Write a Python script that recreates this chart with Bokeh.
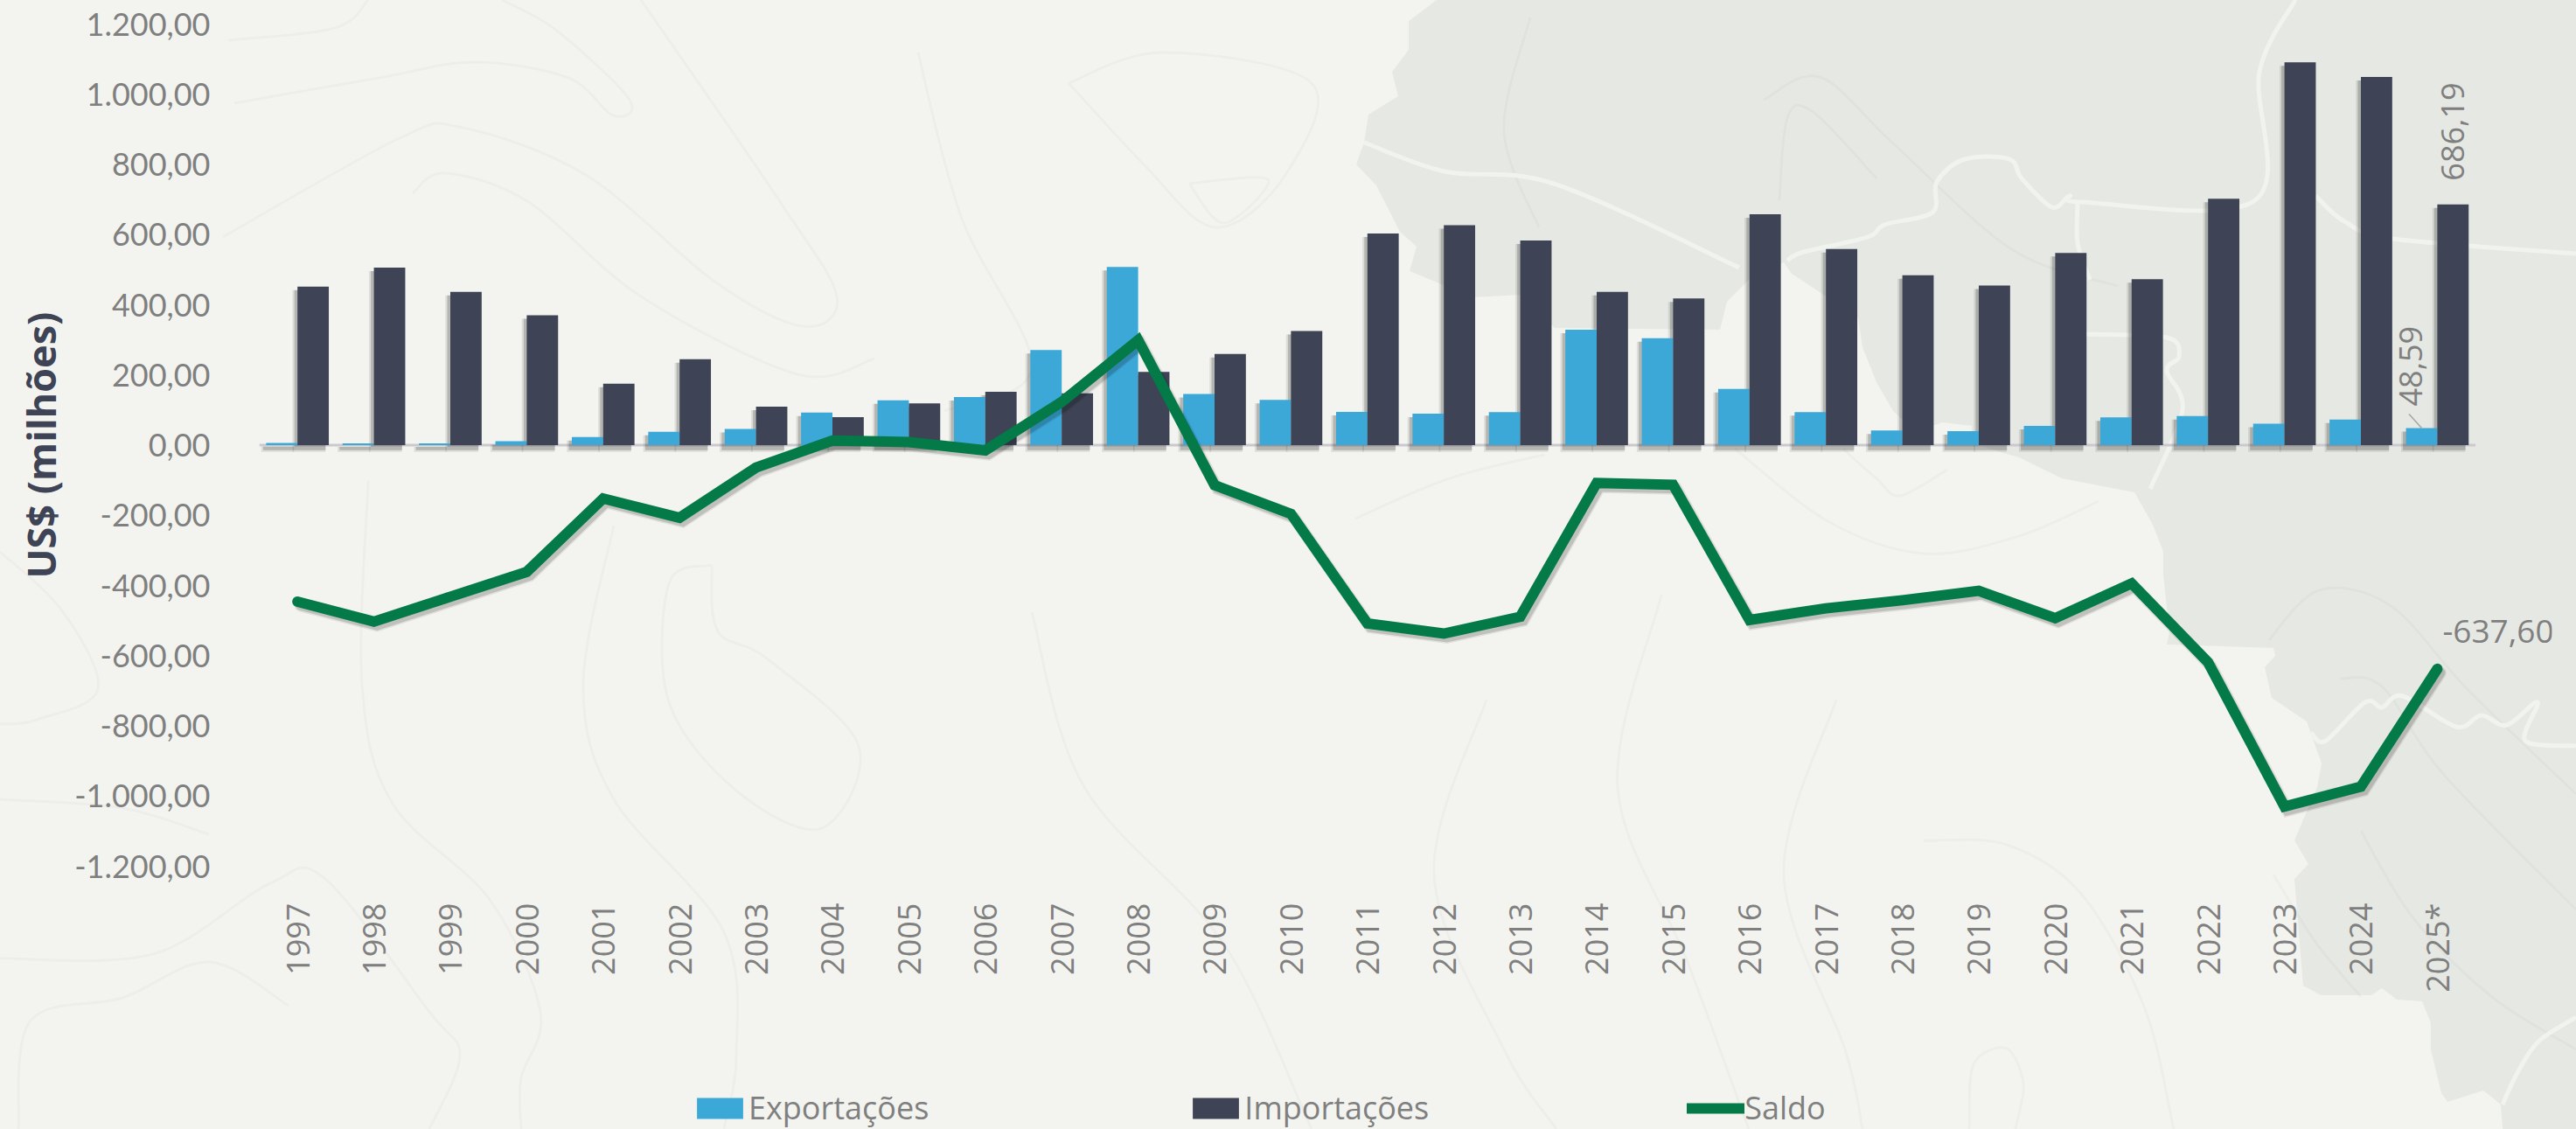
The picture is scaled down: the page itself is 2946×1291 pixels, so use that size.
from math import pi
from urllib.parse import quote
import numpy as np
from bokeh.core.properties import value
from bokeh.embed import file_html
from bokeh.models import (ColumnDataSource, FactorRange, FixedTicker, GlobalInlineStyleSheet,
                          Legend, LegendItem, Range1d, Title)
from bokeh.plotting import figure
from bokeh.resources import INLINE
from bokeh.transform import dodge

anos = ["1997","1998","1999","2000","2001","2002","2003","2004","2005","2006","2007","2008","2009","2010",
        "2011","2012","2013","2014","2015","2016","2017","2018","2019","2020","2021","2022","2023","2024","2025*"]
exportacoes = [6,5,5,11,23,38,46,93,128,137,271,508,146,129,95,90,94,329,305,160,94,42,40,55,79,83,61,73,48.59]
importacoes = [452,506,437,370,175,245,110,80,119,152,148,209,260,325,603,627,583,437,418,658,559,484,455,548,473,702,1091,1049,686.19]
saldo = [-446,-503,-432,-361,-152,-207,-64,13,9,-15,123,299,-114,-196,-508,-537,-489,-108,-113,-498,-465,-442,-415,-493,-394,-619,-1030,-973,-637.6]
y_ticks = [-1200,-1000,-800,-600,-400,-200,0,200,400,600,800,1000,1200]
y_labels = ["-1.200,00","-1.000,00","-800,00","-600,00","-400,00","-200,00","0,00","200,00","400,00","600,00","800,00","1.000,00","1.200,00"]

AZUL, ESCURO, VERDE, CINZA = "#3ba8d8", "#3e4455", "#037a48", "#7f7f7f"

# ---- decorative page background (map silhouette, borders, contour lines), in page pixels
MAPA = [(1643,0),(1611,24),(1611,57),(1592,82),(1599,110),(1565,131),(1560,163),(1551,188),(1574,212),(1601,265),
        (1620,282),(1612,310),(1685,340),(1740,337),(1778,375),(1967,377),(1975,345),(2000,320),(2040,300),(2049,313),
        (2125,363),(2130,397),(2146,437),(2165,470),(2190,493),(2222,483),(2255,487),(2255,507),(2309,523),(2358,547),
        (2441,563),(2462,600),(2474,631),(2474,657),(2481,723),(2478,737),(2600,741),(2602,750),(2590,763),(2598,798),
        (2638,825),(2655,873),(2650,900),(2624,961),(2640,988),(2624,1005),(2634,1127),(2654,1138),(2712,1138),(2724,1130),
        (2741,1143),(2770,1145),(2780,1170),(2780,1200),(2792,1250),(2799,1260),(2840,1247),(2860,1263),(2862,1291),
        (2946,1291),(2946,0)]
RIOS = [[(1560,163),(1652,196),(1777,210),(1989,306)],
        [(2044,298),(2063,288),(2136,271),(2155,257),(2210,243),(2215,208),(2247,182),(2298,182),(2312,204),(2347,237),
         (2367,224),(2381,231),(2579,229),(2584,82),(2625,0)],
        [(2376,233),(2376,278),(2390,320)],
        [(2386,382),(2478,386),(2492,408),(2478,424),(2496,469),(2459,559)],
        [(2648,224),(2681,253),(2736,273),(2946,290)],
        [(2643,838),(2660,847),(2705,803),(2724,809),(2748,796),(2809,831),(2838,818),(2867,829),(2902,803),(2888,847),(2946,853)],
        [(2862,1263),(2881,1223),(2904,1190),(2946,1163)]]
CURVAS = [[(261,46),(383,32),(421,0)],
          [(268,118),(434,89),(542,71),(650,89),(701,132),(720,114),(638,36),(574,0)],
          [(255,271),(459,157),(529,146),(670,200),(816,321),(918,373),(957,339),(893,232),(733,0)],
          [(472,221),(510,198),(606,232),(733,339),(912,428),(1000,410)],
          [(1222,95),(1330,60),(1500,95),(1470,200),(1390,260),(1310,190),(1222,95)],
          [(1360,210),(1450,205),(1400,255),(1360,210)],
          [(421,550),(414,783),(449,919),(561,1030),(618,1157),(596,1232),(596,1291)],
          [(702,601),(667,783),(702,914),(828,1066),(842,1207),(828,1291)],
          [(814,646),(765,667),(765,803),(842,904),(940,947),(982,853),(877,753),(821,722),(814,646)],
          [(0,1096),(175,1091),(309,1010),(372,1005),(491,1157),(526,1207),(491,1291)],
          [(21,1291),(35,1167),(140,1141),(240,1100),(330,1150)],
          [(0,631),(70,697),(112,788),(42,823),(0,828)],
          [(0,914),(140,924),(239,954)],
          [(2595,732),(2652,675),(2733,692),(2819,785),(2946,908)],
          [(2676,776),(2724,785),(2795,886),(2946,1040)],
          [(2017,114),(2081,88),(2164,163),(2302,286),(2422,327)],
          [(2035,229),(2044,135),(2072,127),(2146,204)],
          [(2200,961),(2295,966),(2381,1023),(2452,1151),(2486,1291)],
          [(2252,1291),(2257,1217),(2295,1199),(2314,1239),(2305,1291)],
          [(2108,513),(2146,547),(2173,567),(2227,537)],
          [(1984,513),(2092,597),(2200,633),(2309,613),(2400,573)],
          [(1550,593),(1658,547),(1767,520)],
          [(1180,700),(1240,900),(1400,1080),(1500,1291)],
          [(1700,800),(1640,1000),(1720,1200),(1780,1291)],
          [(1900,680),(1850,900),(1930,1100),(2000,1291)],
          [(2100,800),(2040,1000),(2110,1200),(2130,1291)],
          [(2700,950),(2760,1050),(2850,1140),(2946,1200)],
          [(2600,1000),(2650,1080),(2700,1140)],
          [(1050,60),(1100,250),(1180,420),(1080,470)],
          [(1750,20),(1720,150),(1760,260)]]

def suave(pts):
    d = f"M{pts[0][0]} {pts[0][1]}"
    for i in range(len(pts) - 1):
        p0 = pts[max(i - 1, 0)]; p1 = pts[i]; p2 = pts[i + 1]; p3 = pts[min(i + 2, len(pts) - 1)]
        d += (f"C{p1[0]+(p2[0]-p0[0])/6:.0f} {p1[1]+(p2[1]-p0[1])/6:.0f} "
              f"{p2[0]-(p3[0]-p1[0])/6:.0f} {p2[1]-(p3[1]-p1[1])/6:.0f} {p2[0]} {p2[1]}")
    return d

fundo = "<svg xmlns='http://www.w3.org/2000/svg' width='2946' height='1291' viewBox='0 0 2946 1291'>"
fundo += "<path fill='#e6e8e3' d='M" + "L".join(f"{x} {y}" for x, y in MAPA) + "Z'/>"
for c in CURVAS:
    fundo += f"<path fill='none' stroke='#000' stroke-opacity='.022' stroke-width='3' d='{suave(c)}'/>"
for r in RIOS:
    fundo += f"<path fill='none' stroke='#f1f3ee' stroke-width='5' d='{suave(r)}'/>"
fundo += "</svg>"
css = (f"html{{margin:0;padding:0;overflow:hidden;background:#f3f4ef url(\"data:image/svg+xml,{quote(fundo)}\") no-repeat 0 0;}} "
       "body{margin:0;padding:0;background:transparent;}")

# ---- chart: the frame runs to the page bottom so that the legend sits inside it;
# the category axis is pinned at -1200 and one blank factor leaves room for the last data label
p = figure(width=2946, height=1291, frame_width=2622, frame_height=1264,
           x_range=FactorRange(factors=anos + [" "], range_padding=0), y_range=Range1d(-1950, 1200),
           output_backend="svg", toolbar_location=None, min_border_left=296, min_border_right=28,
           min_border_top=27, min_border_bottom=0)
p.background_fill_color = None
p.border_fill_color = None
p.outline_line_color = None
p.grid.visible = False
p.stylesheets = [GlobalInlineStyleSheet(css=css)]

src = ColumnDataSource(dict(ano=anos, exp=exportacoes, imp=importacoes, saldo=saldo,
                            exp_s=np.maximum(np.array(exportacoes) - 10, -5),
                            imp_s=np.maximum(np.array(importacoes) - 10, -5),
                            saldo_s=np.array(saldo) - 11))
rng = p.x_range
W = 0.41
D = W / 2

base = ColumnDataSource(dict(a=[anos[0]], b=[anos[-1]], y=[0]))
p.segment(x0=dodge("a", -0.5, range=rng), y0="y", x1=dodge("b", 0.5, range=rng), y1="y", source=base,
          line_color="#c9c9ce", line_width=3)

for larg, off, fundo_y, a in [(W + 0.02, -0.055, -19, 0.09), (W, -0.04, -14, 0.18)]:
    p.vbar(x=dodge("ano", -D + off, range=rng), top="exp_s", bottom=fundo_y, width=larg, source=src,
           fill_color="#000000", fill_alpha=a, line_color=None)
    p.vbar(x=dodge("ano", D + off, range=rng), top="imp_s", bottom=fundo_y, width=larg, source=src,
           fill_color="#000000", fill_alpha=a, line_color=None)

r_exp = p.vbar(x=dodge("ano", -D, range=rng), top="exp", bottom=0, width=W, source=src, fill_color=AZUL, line_color=None)
r_imp = p.vbar(x=dodge("ano", D, range=rng), top="imp", bottom=0, width=W, source=src, fill_color=ESCURO, line_color=None)

for larg, a in [(14, 0.08), (11, 0.14)]:
    p.line(x=dodge("ano", 0.04, range=rng), y="saldo_s", source=src, line_color="#000000", line_alpha=a, line_width=larg,
           line_join="miter", line_cap="round")
r_saldo = p.line(x="ano", y="saldo", source=src, line_color=VERDE, line_width=12, line_join="miter", line_cap="round")

# rotulos de dados
ult = ColumnDataSource(dict(ano=[anos[-1]], exp=[exportacoes[-1]], imp=[importacoes[-1]], saldo=[saldo[-1]],
                            t_exp=["48,59"], t_imp=["686,19"], t_saldo=["-637,60"],
                            lead_y0=[exportacoes[-1] + 40]))
fonte = value("Open Sans")
p.text(x=dodge("ano", D, range=rng), y="imp", text="t_imp", source=ult, angle=pi / 2, text_align="left",
       text_baseline="middle", y_offset=-27, text_font=fonte, text_font_size="36px", text_color=CINZA)
p.text(x=dodge("ano", -D, range=rng), y="exp", text="t_exp", source=ult, angle=pi / 2, text_align="left",
       text_baseline="middle", x_offset=-12, y_offset=-25, text_font=fonte, text_font_size="36px", text_color=CINZA)
p.text(x="ano", y="saldo", text="t_saldo", source=ult, text_align="left", text_baseline="middle",
       x_offset=6, y_offset=-43, text_font=fonte, text_font_size="37px", text_color=CINZA)
p.segment(x0=dodge("ano", -0.37, range=rng), y0="lead_y0", x1=dodge("ano", -D, range=rng), y1="exp", source=ult,
          line_color="#a6a6a6", line_width=1.5)

# eixos
p.yaxis.ticker = FixedTicker(ticks=y_ticks)
p.yaxis.bounds = (-1200, 1200)
p.yaxis.major_label_overrides = {t: s for t, s in zip(y_ticks, y_labels)}
p.yaxis.axis_line_color = None
p.yaxis.major_tick_line_color = None
p.yaxis.minor_tick_line_color = None
p.yaxis.major_label_standoff = 50
p.yaxis.major_label_text_font = "Lato"
p.yaxis.major_label_text_font_size = "36px"
p.yaxis.major_label_text_color = CINZA

titulo_y = Title(text="US$ (milhões)", align="left", offset=630, standoff=11, text_font="Open Sans",
                 text_font_style="bold", text_font_size="45px", text_color=ESCURO)
p.add_layout(titulo_y, "left")

p.xaxis.fixed_location = -1200
p.xaxis.axis_line_color = None
p.xaxis.major_tick_line_color = None
p.xaxis.minor_tick_line_color = None
p.xaxis.major_label_orientation = pi / 2
p.xaxis.major_label_standoff = 36
p.xaxis.major_label_text_font = "Open Sans"
p.xaxis.major_label_text_font_size = "36px"
p.xaxis.major_label_text_color = CINZA

leg = Legend(items=[LegendItem(label="Exportações", renderers=[r_exp]),
                    LegendItem(label="Importações", renderers=[r_imp]),
                    LegendItem(label="Saldo", renderers=[r_saldo])],
             orientation="horizontal", location=(494, 0), spacing=295, padding=0, margin=0,
             glyph_width=66, glyph_height=30, label_standoff=0, border_line_color=None, background_fill_alpha=0,
             label_text_font="Open Sans", label_text_font_size="36px", label_text_color=CINZA)
p.add_layout(leg, "center")

open("out.html", "w").write(file_html(p, INLINE))
